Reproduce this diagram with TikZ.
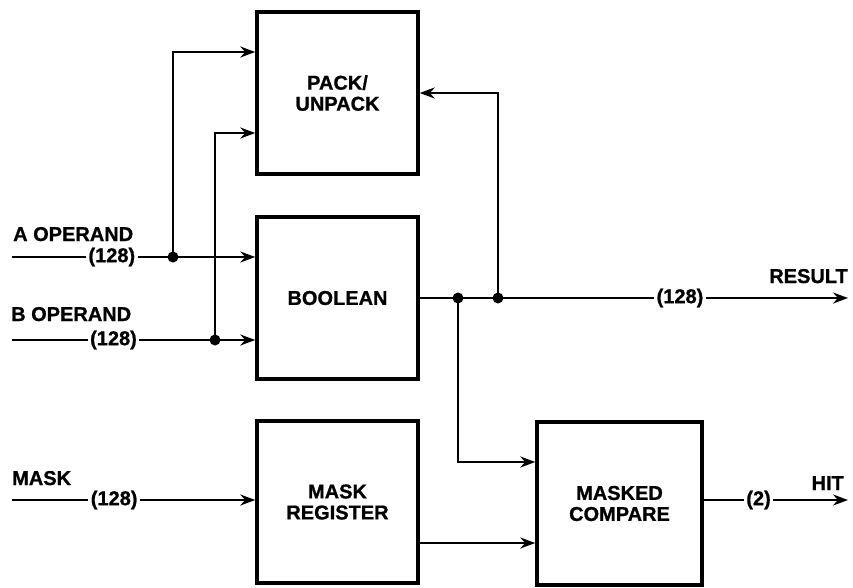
\documentclass[tikz,border=0pt]{standalone}
\usepackage{fontspec}
\setmainfont{Liberation Sans}[BoldFeatures={FakeBold=0.9}]
\usetikzlibrary{arrows.meta}
\begin{document}
\begin{tikzpicture}[x=1pt,y=1pt,
  font=\bfseries\fontsize{20}{21}\selectfont,
  blk/.style={draw,line width=3.5pt,minimum width=161pt,minimum height=162pt,align=center,inner sep=0pt},
  conn/.style={line width=2.8pt},
  arr/.style={conn,-{Stealth[length=15pt,width=11pt,inset=5pt]}},
  lbl/.style={fill=white,inner sep=2.5pt},
  txt/.style={inner sep=0pt},
  jdot/.style={circle,fill,inner sep=0pt,minimum size=11pt}]
\useasboundingbox (0,0) rectangle (853,-587);
% blocks
\node[blk] (pack) at (337.5,-93) {PACK/\\UNPACK};
\node[blk] (bool) at (337.5,-298) {BOOLEAN};
\node[blk] (mreg) at (337.5,-502) {MASK\\REGISTER};
\node[blk,minimum width=165pt,minimum height=163pt] (mcmp) at (619.5,-503.5) {MASKED\\COMPARE};
% free ends and junctions
\coordinate (ain) at (12,-257);
\coordinate (bin) at (12,-340);
\coordinate (min) at (12,-500);
\coordinate (rend) at (848,-298);
\coordinate (hend) at (848,-500);
\coordinate (mout) at ([yshift=-41pt]mreg.east);
\node[jdot] (adot) at (173,-257) {};
\node[jdot] (bdot) at (215,-340) {};
\node[jdot] (r1) at (458,-298) {};
\node[jdot] (r2) at (498,-298) {};
% labels
\node[txt,anchor=base west] (la) at (13,-241) {A OPERAND};
\node[txt,anchor=base west] (lb) at (11,-321) {B OPERAND};
\node[txt,anchor=base west] (lm) at (12,-485) {MASK};
\node[txt,anchor=base east] (lr) at (848,-283) {RESULT};
\node[txt,anchor=base east] (lh) at (844,-490) {HIT};
% A operand
\draw[conn] (ain) -- node[lbl,pos=0.62] {(128)} (adot.center);
\draw[arr] (adot.center) -- (bool.west |- adot);
\draw[arr] (adot.center) |- ([yshift=41pt]pack.west);
% B operand
\draw[conn] (bin) -- node[lbl,pos=0.5] {(128)} (bdot.center);
\draw[arr] (bdot.center) -- (bool.west |- bdot);
\draw[arr] (bdot.center) |- ([yshift=-40pt]pack.west);
% mask
\draw[arr] (min) -- node[lbl,pos=0.42] {(128)} (mreg.west |- min);
% boolean result
\draw[conn] (bool.east) -- (r2.center);
\draw[arr] (r2.center) -- node[lbl,pos=0.52] {(128)} (rend);
\draw[arr] (r2.center) |- (pack.east);
\draw[arr] (r1.center) |- ([yshift=41.5pt]mcmp.west);
% mask register to compare
\draw[arr] (mout) -- (mcmp.west |- mout);
% hit
\draw[arr] (mcmp.east |- hend) -- node[lbl,pos=0.38] {(2)} (hend);
\end{tikzpicture}
\end{document}
